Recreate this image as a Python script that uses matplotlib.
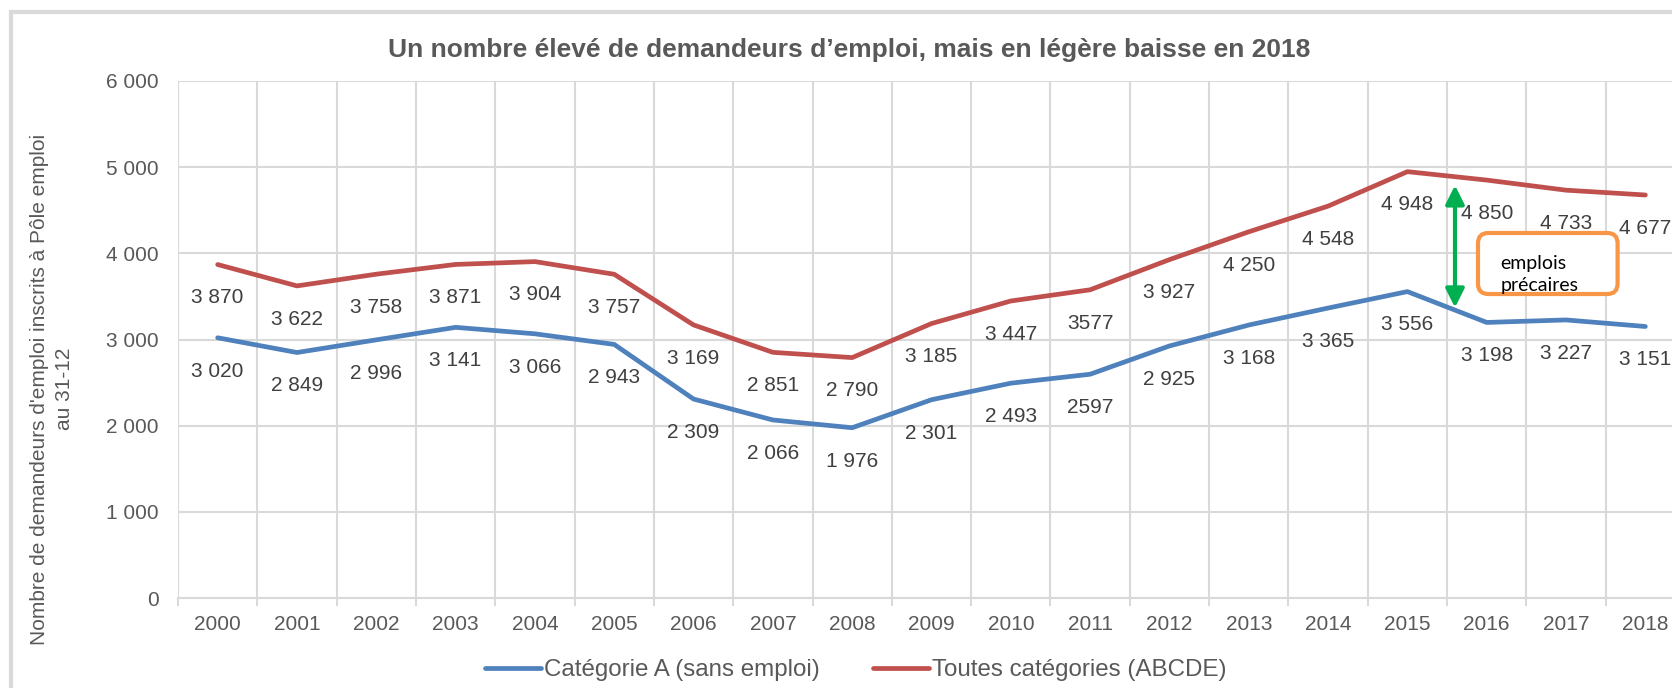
import matplotlib
matplotlib.use("Agg")
import matplotlib.pyplot as plt
from matplotlib.patches import FancyBboxPatch, Rectangle

plt.rcParams['font.family'] = ['Liberation Sans', 'DejaVu Sans']

# donnees (milliers de demandeurs inscrits au 31-12)
annees = [str(a) for a in range(2000, 2019)]
cat_a = [3020, 2849, 2996, 3141, 3066, 2943, 2309, 2066, 1976, 2301,
         2493, 2597, 2925, 3168, 3365, 3556, 3198, 3227, 3151]
abcde = [3870, 3622, 3758, 3871, 3904, 3757, 3169, 2851, 2790, 3185,
         3447, 3577, 3927, 4250, 4548, 4948, 4850, 4733, 4677]
# etiquettes ecrites sans espace dans l'original
sans_espace = [11]

bleu = '#4F81BD'
rouge = '#C0504D'
gris = '#595959'
grille = '#D9D9D9'


def fmt(v, i):
    if i in sans_espace:
        return str(v)
    return f'{v:,}'.replace(',', ' ')


fig = plt.figure(figsize=(16.72, 6.88), dpi=100)
ax = fig.add_axes([178 / 1672, 1 - 598 / 688, 1507 / 1672, 517 / 688])

# cadre gris du graphique (coupe a droite et en bas)
fig.patches.append(Rectangle((11 / 1672, -0.1), 1.2, 1 - 12 / 688 + 0.1,
                             transform=fig.transFigure, fill=False,
                             edgecolor=grille, lw=3, zorder=0))

x = list(range(len(annees)))
ax.plot(x, cat_a, color=bleu, lw=3.4, solid_capstyle='round',
        label='Catégorie A (sans emploi)', zorder=3)
ax.plot(x, abcde, color=rouge, lw=3.4, solid_capstyle='round',
        label='Toutes catégories (ABCDE)', zorder=3)

for i in x:
    for serie in (cat_a, abcde):
        ax.annotate(fmt(serie[i], i), (i, serie[i]), xytext=(0, -24),
                    textcoords='offset points', ha='center', va='center',
                    fontsize=15, color='#404040', annotation_clip=False)

ax.set_xlim(-0.5, len(annees) - 0.5)
ax.set_ylim(0, 6000)
ax.set_yticks(range(0, 6001, 1000))
ax.set_yticklabels([fmt(v, -1) for v in range(0, 6001, 1000)])
ax.set_xticks(x)
ax.set_xticklabels(annees)
ax.set_xticks([i - 0.5 for i in range(len(annees) + 1)], minor=True)
ax.tick_params(axis='x', which='major', length=0, pad=12, labelsize=15,
               labelcolor=gris)
ax.tick_params(axis='x', which='minor', length=6, width=1.5, color=grille)
ax.tick_params(axis='y', length=0, pad=14, labelsize=15, labelcolor=gris)

ax.grid(True, axis='y', color=grille, lw=1.5)
ax.grid(True, axis='x', which='minor', color=grille, lw=1.5)
ax.set_axisbelow(True)
for s in ('top', 'right', 'left'):
    ax.spines[s].set_visible(False)
ax.spines['bottom'].set_color(grille)
ax.spines['bottom'].set_linewidth(1.5)

ax.set_ylabel("Nombre de demandeurs d'emploi inscrits à Pôle emploi\nau 31-12",
              fontsize=15, color=gris, linespacing=1.4)
ax.yaxis.set_label_coords(-104 / 1507, (598 - 389) / 517)

fig.text(0.508, 1 - 50 / 688,
         "Un nombre élevé de demandeurs d\u2019emploi, mais en légère baisse en 2018",
         ha='center', va='center', fontsize=19, fontweight='bold', color=gris)

# fleche verte et encadre "emplois precaires"
ax.annotate('', xy=(15.6, 4790), xytext=(15.6, 3370),
            arrowprops=dict(arrowstyle='<|-|>', color='#00B050', lw=3,
                            mutation_scale=28, shrinkA=0, shrinkB=0),
            zorder=5)
box = FancyBboxPatch((15.89, 3528), 1.76, 708,
                     boxstyle='round,pad=0,rounding_size=0.13',
                     mutation_aspect=920, fill=True, facecolor='white',
                     edgecolor='#F79646', lw=3, zorder=4)
ax.add_patch(box)
ax.text(16.17, 3750, 'emplois\nprécaires', ha='left', va='center',
        fontsize=14, family=['Lato', 'DejaVu Sans'], color='black',
        linespacing=1.35, zorder=6)

fig.legend(loc='center', bbox_to_anchor=(0.512, 1 - 670 / 688), ncol=2,
           frameon=False, fontsize=17.4, labelcolor=gris, handlelength=2.3,
           handletextpad=0.15, columnspacing=2.2)

fig.savefig('out.png', dpi=100)
